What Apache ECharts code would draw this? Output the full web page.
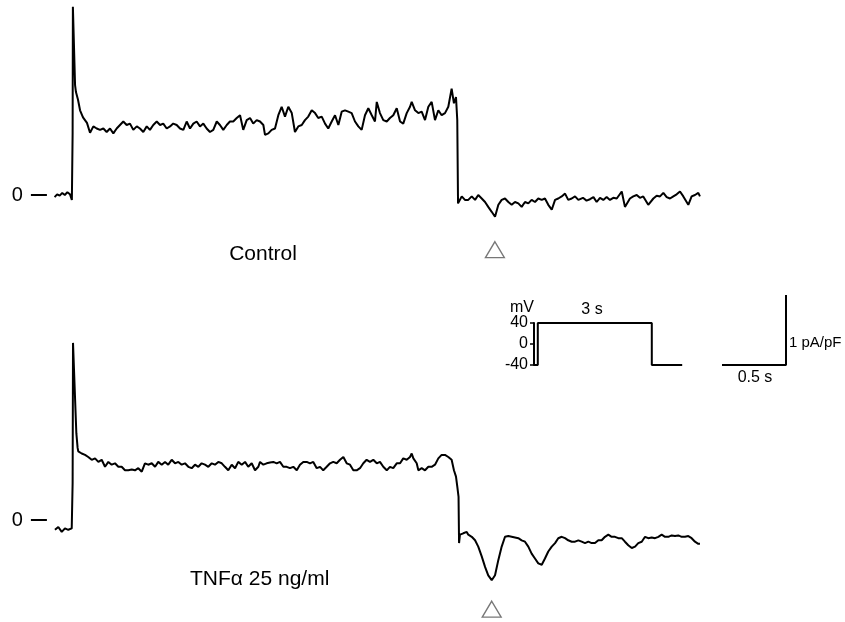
<!DOCTYPE html>
<html><head><meta charset="utf-8">
<script src="https://cdn.jsdelivr.net/npm/echarts@6/dist/echarts.min.js"></script>
<style>html,body{margin:0;padding:0;background:#fff}#c{width:845px;height:622px}</style>
</head><body><div id="c"></div>
<script>
// ---- data (time in s, current density in pA/pF) ----
const controlTrace = [
[-0.14,-0.03],[-0.12,0.01],[-0.10,-0.01],[-0.08,0.03],[-0.06,0.00],[-0.04,0.04],[-0.02,0.01],[-0.005,-0.07],[0,-0.08],
[0.001,0.89],[0.003,2.69],[0.010,2.69],[0.020,1.57],[0.027,1.47],[0.043,1.36],[0.059,1.21],[0.082,1.11],[0.113,1.03],[0.137,0.89],
[0.163,0.98],[0.189,0.95],[0.215,0.93],[0.241,0.95],[0.267,0.90],[0.293,0.95],[0.319,0.88],[0.345,0.95],[0.371,1.00],[0.397,1.05],[0.423,1.00],[0.449,1.02],[0.475,0.93],[0.502,0.98],[0.527,0.95],[0.553,0.90],[0.580,0.98],[0.605,0.93],[0.631,1.00],[0.658,1.05],[0.684,1.00],[0.709,1.02],[0.736,0.95],[0.762,0.98],[0.787,1.02],[0.814,1.00],[0.840,0.95],[0.866,0.93],[0.892,1.05],[0.918,0.95],[0.944,1.02],[0.970,1.05],[0.996,0.98],[1.022,1.02],[1.048,0.95],[1.074,0.90],[1.100,0.93],[1.127,1.05],[1.152,1.00],[1.178,0.93],[1.205,1.00],[1.230,1.05],[1.256,1.05],[1.283,1.10],[1.309,1.14],[1.334,0.93],[1.361,1.07],[1.387,1.10],[1.412,1.02],[1.439,1.07],[1.465,1.05],
[1.491,1.00],[1.504,0.86],[1.530,0.88],[1.556,0.93],[1.582,0.95],[1.608,1.14],[1.634,1.26],[1.660,1.12],[1.686,1.26],[1.713,1.17],[1.738,0.90],[1.764,0.98],[1.791,1.00],[1.816,1.07],[1.842,1.12],[1.869,1.21],[1.895,1.17],[1.920,1.10],[1.947,1.12],[1.973,1.02],[1.998,0.95],[2.025,1.05],[2.051,1.14],[2.077,1.00],[2.103,1.19],[2.129,1.21],[2.155,1.19],[2.181,1.17],[2.207,1.05],[2.233,0.98],[2.259,0.93],[2.285,1.14],[2.311,1.24],[2.338,1.14],[2.363,1.05],[2.377,1.33],[2.402,1.17],[2.428,1.07],[2.455,1.05],[2.480,1.10],[2.506,1.14],[2.533,1.24],[2.559,1.05],[2.584,1.02],[2.611,1.17],[2.637,1.26],[2.650,1.33],[2.676,1.21],[2.702,1.17],[2.728,1.19],[2.754,1.07],[2.780,1.26],[2.806,1.33],[2.832,1.07],[2.858,1.21],[2.884,1.14],[2.910,1.17],[2.936,1.26],[2.962,1.52],[2.980,1.31],[2.996,1.40],[3.006,1.07],[3.012,-0.12],
[3.041,-0.02],[3.066,-0.07],[3.092,-0.07],[3.119,-0.02],[3.145,-0.07],[3.170,0.00],[3.197,-0.05],[3.223,-0.10],[3.248,-0.17],[3.275,-0.24],[3.301,-0.31],[3.327,-0.14],[3.353,-0.07],[3.379,-0.05],[3.405,-0.10],[3.431,-0.14],[3.457,-0.10],[3.483,-0.12],[3.509,-0.17],[3.535,-0.10],[3.561,-0.12],[3.587,-0.07],[3.613,-0.10],[3.639,-0.05],[3.666,-0.07],[3.691,-0.05],[3.717,-0.14],[3.744,-0.21],[3.770,-0.07],[3.795,-0.05],[3.822,-0.02],[3.848,0.02],[3.873,-0.07],[3.900,-0.05],[3.926,-0.02],[3.952,-0.07],[3.988,-0.04],[4.016,-0.08],[4.043,-0.06],[4.070,-0.03],[4.095,-0.10],[4.121,-0.04],[4.147,-0.07],[4.173,-0.03],[4.199,-0.07],[4.225,-0.04],[4.252,-0.05],[4.291,0.05],[4.316,-0.17],[4.355,-0.05],[4.381,-0.02],[4.408,0.00],[4.433,-0.04],[4.459,-0.02],[4.498,-0.14],[4.538,-0.05],[4.564,-0.01],[4.590,-0.02],[4.616,0.03],[4.642,-0.03],[4.668,-0.05],[4.694,-0.02],[4.720,0.01],[4.746,0.05],[4.772,-0.02],[4.811,-0.14],[4.837,-0.02],[4.863,0.00],[4.889,0.03],[4.902,-0.02]
];
const tnfTrace = [
[-0.137,-0.14],[-0.111,-0.10],[-0.084,-0.17],[-0.059,-0.12],[-0.033,-0.14],[-0.006,-0.12],[0,-0.13],[0.001,0.53],[0.004,2.53],[0.018,2.53],[0.030,1.24],[0.040,1.03],[0.045,0.98],[0.072,0.95],[0.098,0.93],[0.123,0.90],[0.150,0.86],[0.176,0.88],[0.202,0.83],[0.228,0.86],[0.254,0.76],[0.280,0.83],[0.306,0.79],[0.332,0.81],[0.358,0.76],[0.384,0.76],[0.410,0.71],[0.436,0.71],[0.463,0.72],[0.488,0.71],[0.514,0.74],[0.541,0.69],[0.566,0.81],[0.592,0.79],[0.619,0.81],[0.645,0.76],[0.670,0.83],[0.697,0.79],[0.723,0.83],[0.748,0.79],[0.775,0.86],[0.801,0.81],[0.827,0.83],[0.853,0.79],[0.879,0.81],[0.905,0.76],[0.931,0.74],[0.957,0.79],[0.983,0.76],[1.009,0.81],[1.035,0.79],[1.061,0.76],[1.088,0.81],[1.113,0.79],[1.139,0.83],[1.166,0.81],[1.191,0.76],[1.217,0.71],[1.244,0.79],[1.270,0.74],[1.295,0.83],[1.322,0.79],[1.348,0.83],[1.373,0.76],[1.400,0.81],[1.426,0.71],[1.452,0.76],[1.465,0.83],[1.491,0.79],[1.517,0.81],[1.543,0.82],[1.569,0.83],[1.595,0.81],[1.621,0.83],[1.647,0.76],[1.673,0.76],[1.699,0.74],[1.725,0.76],[1.752,0.71],[1.777,0.79],[1.803,0.83],[1.830,0.83],[1.855,0.81],[1.881,0.83],[1.908,0.74],[1.934,0.76],[1.959,0.71],[1.986,0.76],[2.012,0.81],[2.037,0.83],[2.064,0.81],[2.090,0.86],[2.116,0.90],[2.142,0.81],[2.168,0.79],[2.194,0.71],[2.220,0.71],[2.246,0.74],[2.272,0.81],[2.298,0.86],[2.324,0.83],[2.350,0.86],[2.377,0.81],[2.402,0.83],[2.428,0.76],[2.455,0.71],[2.480,0.76],[2.506,0.74],[2.533,0.81],[2.559,0.81],[2.584,0.88],[2.611,0.86],[2.637,0.90],[2.650,0.95],[2.663,0.88],[2.689,0.81],[2.702,0.71],[2.728,0.74],[2.754,0.71],[2.780,0.76],[2.806,0.76],[2.832,0.79],[2.858,0.88],[2.884,0.93],[2.910,0.93],[2.936,0.90],[2.962,0.86],[2.980,0.71],[2.996,0.62],[3.006,0.48],[3.016,0.33],[3.020,-0.33],[3.027,-0.21],[3.053,-0.19],[3.080,-0.17],[3.092,-0.21],[3.119,-0.24],[3.145,-0.29],[3.170,-0.38],[3.197,-0.52],[3.223,-0.67],[3.248,-0.79],[3.275,-0.86],[3.301,-0.79],[3.327,-0.57],[3.353,-0.38],[3.379,-0.24],[3.405,-0.23],[3.431,-0.24],[3.457,-0.25],[3.483,-0.26],[3.509,-0.29],[3.535,-0.31],[3.561,-0.38],[3.587,-0.48],[3.613,-0.55],[3.639,-0.62],[3.666,-0.64],[3.691,-0.55],[3.717,-0.45],[3.744,-0.38],[3.770,-0.33],[3.795,-0.26],[3.822,-0.24],[3.848,-0.26],[3.873,-0.29],[3.900,-0.31],[3.926,-0.31],[3.952,-0.29],[3.978,-0.31],[4.004,-0.33],[4.030,-0.31],[4.056,-0.33],[4.082,-0.33],[4.108,-0.29],[4.134,-0.29],[4.160,-0.24],[4.186,-0.21],[4.212,-0.24],[4.238,-0.24],[4.264,-0.26],[4.291,-0.26],[4.316,-0.31],[4.342,-0.36],[4.369,-0.40],[4.395,-0.38],[4.420,-0.33],[4.447,-0.31],[4.473,-0.24],[4.498,-0.26],[4.525,-0.25],[4.551,-0.26],[4.577,-0.24],[4.603,-0.21],[4.629,-0.24],[4.655,-0.24],[4.681,-0.22],[4.707,-0.23],[4.733,-0.22],[4.759,-0.24],[4.785,-0.24],[4.811,-0.23],[4.837,-0.26],[4.863,-0.31],[4.889,-0.34],[4.902,-0.34]
];
const tailPeaks = [[3.30, -0.31], [3.275, -0.86]];      // marked by open triangles
const traceLabels = ['Control', 'TNF\u03b1 25 ng/ml'];
const protocolTime = [-0.1, 0, 0, 3, 3, 3.8];             // s
const protocolVoltage = [-40, -40, 40, 40, -40, -40];     // mV
const voltageTicks = [-40, 0, 40];
const protocolDurationLabel = '3 s';
const scaleBarTime = 0.5;        // s
const scaleBarCurrent = 1;       // pA/pF
const scaleBarLabels = ['0.5 s', '1 pA/pF'];

// ---- layout ----
const PX_S = 128, PX_U = 70, T0_PX = 72.5, X_MIN = -0.2, X_MAX = 5.0;
const FONT = '"Liberation Sans", Arial, Helvetica, sans-serif';
function traceGrid(zeroPx, yMin, yMax) {
  return { left: T0_PX + X_MIN * PX_S, width: (X_MAX - X_MIN) * PX_S,
           top: zeroPx - yMax * PX_U, height: (yMax - yMin) * PX_U };
}
const traceY = [[-1, 2.75], [-1.4, 2.75]];
const zeroPx = [195, 520];

const chart = echarts.init(document.getElementById('c'), null, { renderer: 'canvas' });
const black = '#000';
const traceYAxis = (i) => ({
  type: 'value', gridIndex: i, min: traceY[i][0], max: traceY[i][1],
  axisLine: { show: false, onZero: false }, splitLine: { show: false },
  axisTick: { show: true, customValues: [0], length: 16, lineStyle: { color: black, width: 2 } },
  axisLabel: { show: true, customValues: [0], margin: 24, fontSize: 20, color: black, fontFamily: FONT }
});
const traceXAxis = (i) => ({ type: 'value', gridIndex: i, min: X_MIN, max: X_MAX, show: false, axisLine: { onZero: false } });

const option = {
  animation: false,
  backgroundColor: '#fff',
  grid: [
    traceGrid(zeroPx[0], traceY[0][0], traceY[0][1]),
    traceGrid(zeroPx[1], traceY[1][0], traceY[1][1]),
    { left: 534, top: 323, width: 148.2, height: 42 },
    { left: 722, top: 295, width: 64, height: 70 }
  ],
  xAxis: [
    traceXAxis(0), traceXAxis(1),
    { type: 'value', gridIndex: 2, min: -0.1, max: 3.8, show: false, axisLine: { onZero: false } },
    { type: 'value', gridIndex: 3, min: 0, max: scaleBarTime, show: false, axisLine: { onZero: false } }
  ],
  yAxis: [
    traceYAxis(0), traceYAxis(1),
    { type: 'value', gridIndex: 2, min: -40, max: 40, interval: 40,
      name: 'mV', nameLocation: 'end', nameGap: 6,
      nameTextStyle: { fontSize: 16, color: black, fontFamily: FONT, align: 'right' },
      axisLine: { show: true, onZero: false, lineStyle: { color: black, width: 2 } },
      axisTick: { show: true, length: 4, customValues: voltageTicks, lineStyle: { color: black, width: 1.5 } },
      axisLabel: { show: true, customValues: voltageTicks, margin: 6, fontSize: 16, color: black, fontFamily: FONT },
      splitLine: { show: false } },
    { type: 'value', gridIndex: 3, min: 0, max: scaleBarCurrent, show: false, axisLine: { onZero: false } }
  ],
  series: [
    { type: 'line', xAxisIndex: 0, yAxisIndex: 0, data: controlTrace, showSymbol: false, symbol: 'none',
      lineStyle: { color: black, width: 2 }, clip: false },
    { type: 'line', xAxisIndex: 1, yAxisIndex: 1, data: tnfTrace, showSymbol: false, symbol: 'none',
      lineStyle: { color: black, width: 2 }, clip: false },
    { type: 'scatter', xAxisIndex: 0, yAxisIndex: 0, data: [tailPeaks[0]], symbol: 'triangle',
      symbolSize: [19, 16], symbolOffset: [0, 33],
      itemStyle: { color: '#fff', borderColor: '#555', borderWidth: 1.3 } },
    { type: 'scatter', xAxisIndex: 1, yAxisIndex: 1, data: [tailPeaks[1]], symbol: 'triangle',
      symbolSize: [19, 16], symbolOffset: [0, 29],
      itemStyle: { color: '#fff', borderColor: '#555', borderWidth: 1.3 } },
    { type: 'line', xAxisIndex: 2, yAxisIndex: 2, showSymbol: false, symbol: 'none',
      data: protocolTime.map((t, i) => [t, protocolVoltage[i]]),
      lineStyle: { color: black, width: 2 } },
    { type: 'line', xAxisIndex: 3, yAxisIndex: 3, showSymbol: false, symbol: 'none',
      data: [[0, 0], [scaleBarTime, 0], [scaleBarTime, scaleBarCurrent]],
      lineStyle: { color: black, width: 2 }, clip: false }
  ],
  graphic: [
    { type: 'text', x: 263, y: 254, style: { text: traceLabels[0], font: '21px ' + FONT, fill: black, align: 'center', verticalAlign: 'middle' } },
    { type: 'text', x: 190, y: 579, style: { text: traceLabels[1], font: '21px ' + FONT, fill: black, align: 'left', verticalAlign: 'middle' } },
    { type: 'text', x: 592, y: 310, style: { text: protocolDurationLabel, font: '16px ' + FONT, fill: black, align: 'center', verticalAlign: 'middle' } },
    { type: 'text', x: 755, y: 378, style: { text: scaleBarLabels[0], font: '16px ' + FONT, fill: black, align: 'center', verticalAlign: 'middle' } },
    { type: 'text', x: 789, y: 343, style: { text: scaleBarLabels[1], font: '15px ' + FONT, fill: black, align: 'left', verticalAlign: 'middle' } }
  ]
};
chart.setOption(option);
</script></body></html>
